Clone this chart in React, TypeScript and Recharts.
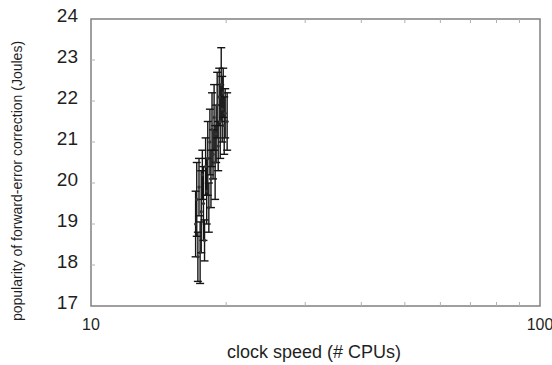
import React from 'react';
import { ScatterChart, Scatter, XAxis, YAxis, ErrorBar, ReferenceArea } from 'recharts';

// clock speed (# CPUs), measured value (Joules), error half-width
const cpus = [
  17.1, 17.2, 17.3, 17.4, 17.5, 17.6, 17.7, 17.8, 17.9, 18.0,
  18.1, 18.2, 18.3, 18.4, 18.5, 18.6, 18.7, 18.8, 18.9, 19.0,
  19.1, 19.2, 19.3, 19.4, 19.5, 19.6, 19.7, 19.8, 19.9, 20.1,
];
const joules = [
  19.0, 19.6, 18.2, 19.9, 18.3, 19.3, 20.2, 19.5, 18.6, 20.4,
  19.8, 20.6, 19.4, 21.0, 20.1, 21.3, 20.7, 21.6, 20.5, 21.2,
  21.9, 20.9, 22.1, 21.5, 22.4, 21.8, 22.2, 21.4, 21.7, 21.5,
];
const errors = [
  0.8, 0.9, 0.6, 0.7, 0.75, 1.0, 0.6, 0.9, 0.5, 0.7,
  0.8, 0.9, 0.6, 0.8, 0.7, 0.9, 0.6, 0.8, 0.9, 0.7,
  0.8, 0.6, 0.7, 0.9, 0.9, 0.8, 0.6, 0.7, 0.6, 0.7,
];

const xTicks = [10, 20, 30, 40, 50, 60, 70, 80, 90, 100];
const xLabels = [10, 100];
const yTicks = [17, 18, 19, 20, 21, 22, 23, 24];

const data = cpus.map((x, i) => ({ x, y: joules[i], err: errors[i] }));

const FONT = '"Liberation Sans", Arial, sans-serif';
const BORDER = '#808080';
const TEXT = '#1f1f1f';
const PLOT_H = 287;

function BottomTick(props: any) {
  const { x, y, payload } = props;
  const v = payload.value;
  const minor = v !== 10 && v !== 100;
  return (
    <g>
      {minor && <line x1={x} y1={y} x2={x} y2={y - 4} stroke="#b0b0b0" strokeWidth={1} />}
      {minor && (
        <line x1={x} y1={y - PLOT_H} x2={x} y2={y - PLOT_H + 4} stroke="#b0b0b0" strokeWidth={1} />
      )}
      {xLabels.includes(v) && (
        <text x={x} y={y + 24} textAnchor="middle" fontSize={16} fontFamily={FONT} fill={TEXT}>
          {v}
        </text>
      )}
    </g>
  );
}

function LeftTick(props: any) {
  const { x, y, payload } = props;
  const v = payload.value;
  return (
    <g>
      {v !== 17 && v !== 24 && (
        <line x1={x} y1={y} x2={x + 4} y2={y} stroke="#b0b0b0" strokeWidth={1} />
      )}
      <text x={x - 13} y={y + 3} textAnchor="end" fontSize={19} fontFamily={FONT} fill={TEXT}>
        {v}
      </text>
    </g>
  );
}

function Dot(props: any) {
  const { cx, cy } = props;
  return <circle cx={cx} cy={cy} r={1.6} fill="#333" />;
}

export default function App() {
  return (
    <div style={{ position: 'absolute', left: 0, top: 0, background: '#fff' }}>
      <ScatterChart width={552} height={365} margin={{ top: 19, right: 12, bottom: 0, left: 0 }}>
        <XAxis
          dataKey="x"
          type="number"
          scale="log"
          domain={[10, 100]}
          ticks={xTicks}
          allowDataOverflow
          height={59}
          axisLine={false}
          tickLine={false}
          tickSize={0}
          tickMargin={0}
          interval={0}
          tick={<BottomTick />}
          label={{
            content: () => (
              <text x={314} y={358} textAnchor="middle" fontSize={18} fontFamily={FONT} fill={TEXT}>
                clock speed (# CPUs)
              </text>
            ),
          }}
        />
        <YAxis
          dataKey="y"
          type="number"
          domain={[17, 24]}
          ticks={yTicks}
          allowDataOverflow
          width={91}
          axisLine={false}
          tickLine={false}
          tickSize={0}
          tickMargin={0}
          interval={0}
          tick={<LeftTick />}
          label={{
            content: () => (
              <text
                x={0}
                y={0}
                transform="translate(22,181) rotate(-90)"
                textAnchor="middle"
                fontSize={14}
                fontFamily={FONT}
                fill={TEXT}
              >
                popularity of forward-error correction (Joules)
              </text>
            ),
          }}
        />
        <ReferenceArea
          x1={10}
          x2={100}
          y1={17}
          y2={24}
          fill="none"
          fillOpacity={0}
          stroke={BORDER}
          strokeWidth={1.5}
          ifOverflow="visible"
        />
        <Scatter data={data} shape={<Dot />} isAnimationActive={false}>
          <ErrorBar
            dataKey="err"
            direction="y"
            width={4}
            stroke="#151515"
            strokeWidth={1.4}
            isAnimationActive={false}
          />
        </Scatter>
      </ScatterChart>
    </div>
  );
}
